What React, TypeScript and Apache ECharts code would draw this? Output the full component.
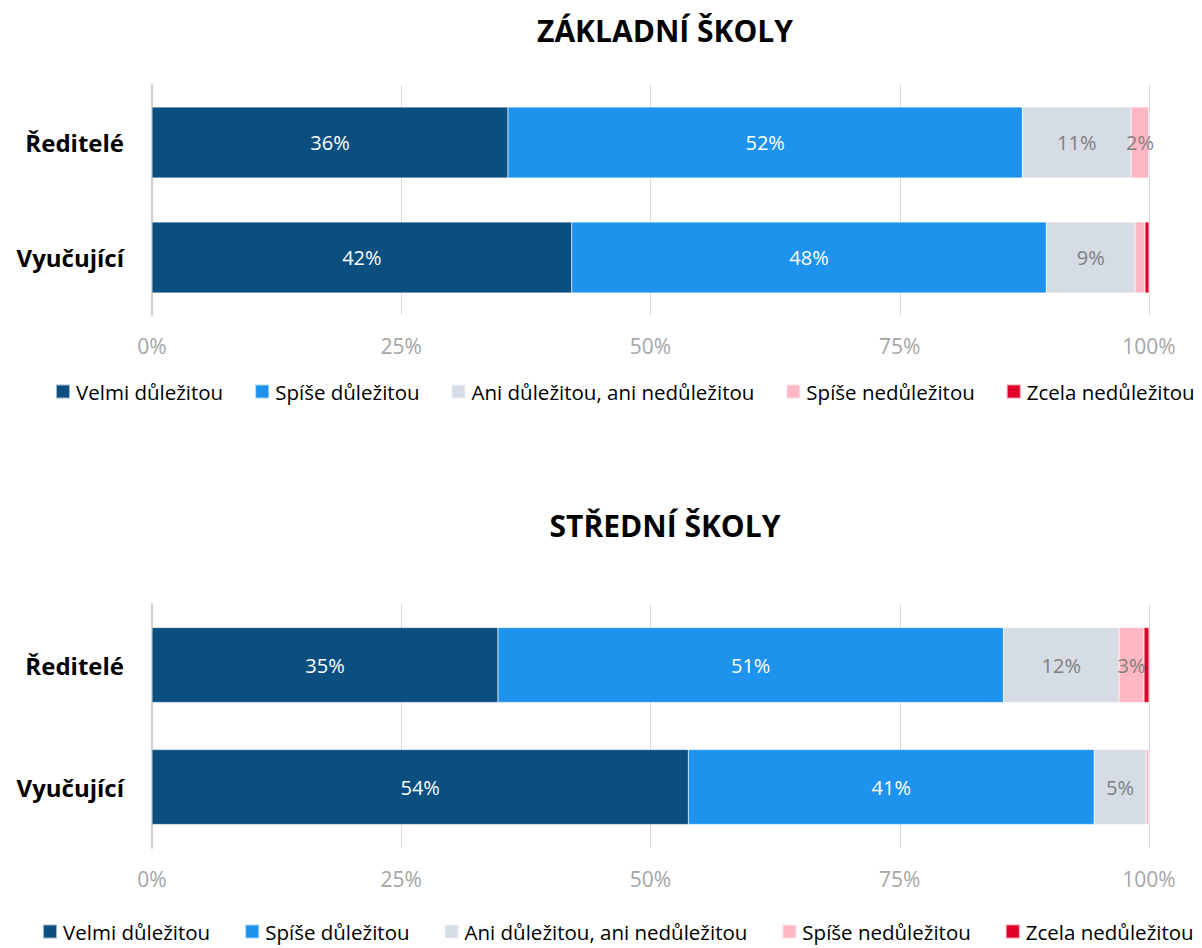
import React, { useEffect, useRef } from "react";
import * as echarts from "echarts";

const categories = ["Ředitelé", "Vyučující"];
const seriesNames = [
  "Velmi důležitou",
  "Spíše důležitou",
  "Ani důležitou, ani nedůležitou",
  "Spíše nedůležitou",
  "Zcela nedůležitou",
];
const colors = ["#0B4F80", "#1E93EE", "#D6DCE4", "#FFB7C3", "#E0002A"];
const labelColors = ["#FFFFFF", "#FFFFFF", "#7F7F7F", "#7F7F7F", "#7F7F7F"];

// ZÁKLADNÍ ŠKOLY: [Ředitelé, Vyučující]
const zsVelmi = [35.7, 42.1];
const zsSpise = [51.6, 47.6];
const zsAni = [10.9, 8.9];
const zsSpiseNe = [1.8, 1.0];
const zsZcela = [0.0, 0.4];

// STŘEDNÍ ŠKOLY: [Ředitelé, Vyučující]
const ssVelmi = [34.7, 53.8];
const ssSpise = [50.7, 40.7];
const ssAni = [11.6, 5.2];
const ssSpiseNe = [2.5, 0.3];
const ssZcela = [0.5, 0.0];

const titles = ["ZÁKLADNÍ ŠKOLY", "STŘEDNÍ ŠKOLY"];
const xTicks = [0, 25, 50, 75, 100];

const FONT = "'Open Sans', 'Noto Sans', sans-serif";

export default function App() {
  const ref = useRef<HTMLDivElement>(null);

  useEffect(() => {
    if (!ref.current) return;
    const chart = echarts.init(ref.current, undefined, { renderer: "svg" });

    const gridDefs = [
      { top: 85, height: 230, barW: 71, titleTop: 10, legendTop: 381, legendLeft: 55, gap: 31 },
      { top: 604, height: 244, barW: 75, titleTop: 505, legendTop: 921, legendLeft: 42, gap: 34 },
    ];
    const datasets = [
      [zsVelmi, zsSpise, zsAni, zsSpiseNe, zsZcela],
      [ssVelmi, ssSpise, ssAni, ssSpiseNe, ssZcela],
    ];

    const series: any[] = [];
    datasets.forEach((ds, gi) => {
      ds.forEach((vals, si) => {
        series.push({
          type: "bar",
          name: seriesNames[si],
          stack: "s" + gi,
          xAxisIndex: gi,
          yAxisIndex: gi,
          barWidth: gridDefs[gi].barW,
          data: vals,
          itemStyle: { color: colors[si], borderColor: "rgba(255,255,255,0.6)", borderWidth: 0.5 },
          label: {
            show: true,
            position: "inside",
            color: labelColors[si],
            fontSize: 20,
            fontFamily: FONT,
            formatter: (p: any) => (p.value >= 1.5 ? Math.round(p.value) + "%" : ""),
          },
        });
      });
    });

    const option: any = {
      animation: false,
      title: titles.map((t, i) => ({
        text: t,
        left: 660,
        textAlign: "center",
        top: gridDefs[i].titleTop,
        textStyle: { fontFamily: FONT, fontSize: 30, fontWeight: "bold", color: "#000" },
      })),
      legend: gridDefs.map((g) => ({
        top: g.legendTop,
        left: g.legendLeft,
        right: 0,
        padding: 0,
        itemWidth: 14,
        itemHeight: 14,
        itemGap: g.gap,
        icon: "rect",
        data: seriesNames,
        textStyle: { fontFamily: FONT, fontSize: 20.5, color: "#000", padding: [0, 0, 0, 1] },
        selectedMode: false,
      })),
      grid: gridDefs.map((g) => ({ left: 152, right: 53, top: g.top, height: g.height })),
      xAxis: gridDefs.map((_, i) => ({
        type: "value",
        gridIndex: i,
        min: 0,
        max: 100,
        interval: 25,
        axisLine: { show: false },
        axisTick: { show: false },
        splitLine: { show: true, lineStyle: { color: "#DADADA", width: 1 } },
        axisLabel: {
          formatter: (v: number) => (xTicks.includes(v) ? v + "%" : ""),
          color: "#A6A6A6",
          fontSize: 21,
          fontFamily: FONT,
          margin: 20,
        },
      })),
      yAxis: gridDefs.map((_, i) => ({
        type: "category",
        gridIndex: i,
        data: categories,
        inverse: true,
        axisLine: { show: true, lineStyle: { color: "#D0D0D0", width: 2 } },
        axisTick: { show: false },
        axisLabel: {
          color: "#000",
          fontSize: 24,
          fontWeight: "bold",
          fontFamily: FONT,
          margin: 28,
        },
      })),
      series,
    };

    chart.setOption(option);
    return () => chart.dispose();
  }, []);

  return (
    <div
      ref={ref}
      style={{ position: "absolute", left: 0, top: 0, width: 1202, height: 948, background: "#fff" }}
    />
  );
}
